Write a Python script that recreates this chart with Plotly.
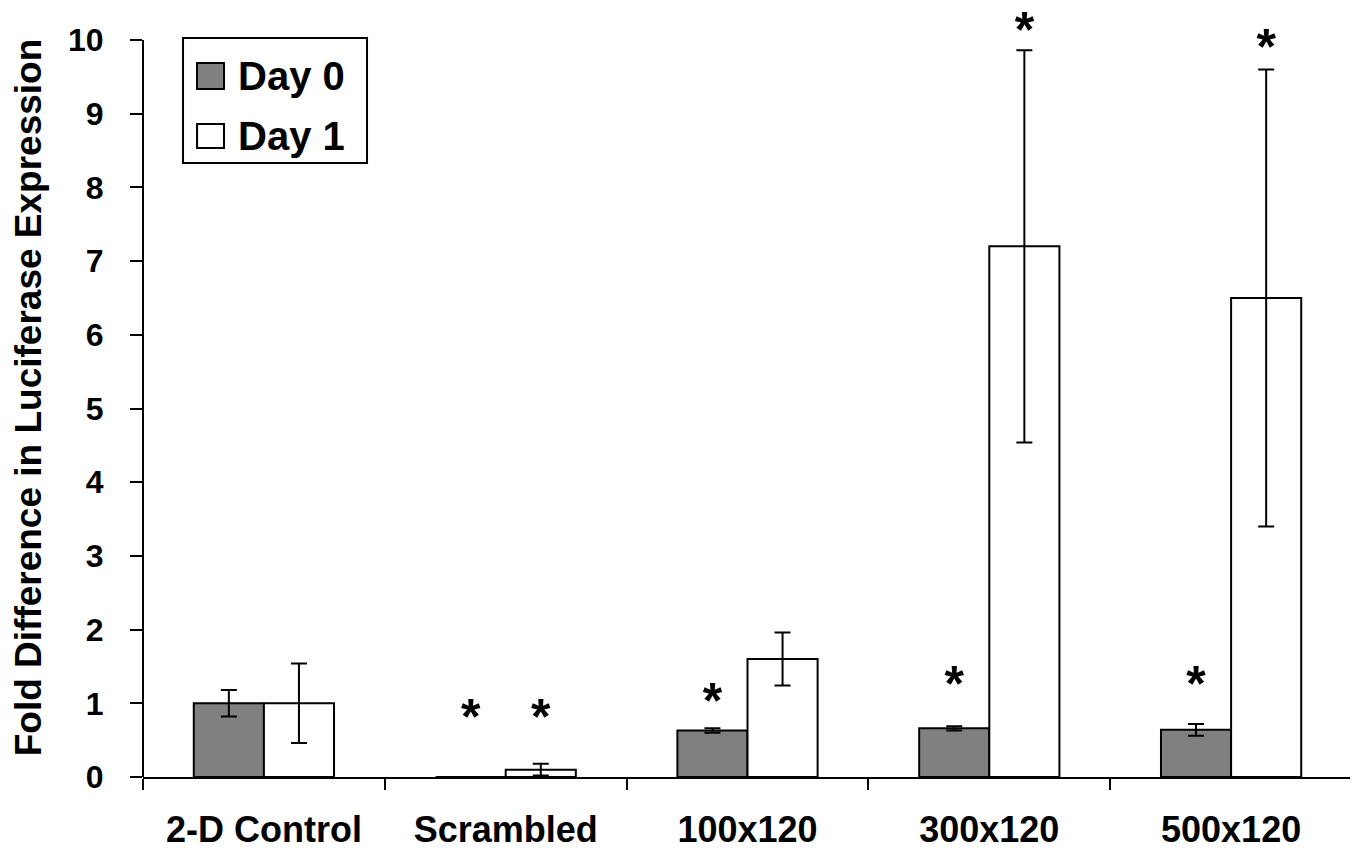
import plotly.graph_objects as go

categories = ["2-D Control", "Scrambled", "100x120", "300x120", "500x120"]
day0 = [1.0, 0.0, 0.63, 0.66, 0.64]
day0_err = [0.18, 0.0, 0.03, 0.03, 0.08]
day1 = [1.0, 0.1, 1.6, 7.2, 6.5]
day1_err = [0.54, 0.08, 0.36, 2.66, 3.1]
# significance markers (y position of asterisk, None = no marker)
star_day0 = [None, 0.75, 0.97, 1.2, 1.2]
star_day1 = [None, 0.75, None, 10.07, 9.84]
y_ticks = list(range(0, 11))
y_max = 10

FONT = "Liberation Sans, Arial, sans-serif"

# layout geometry (figure pixels)
FIG_W, FIG_H = 1350, 842
M_L, M_R, M_B = 135, 6, 73
TOP_OF_AXIS = 32      # where y = y_max sits
M_T = 10              # extra head-room above the axis for the asterisks
axis_px = FIG_H - M_B - TOP_OF_AXIS
y_top = y_max * (1 + (TOP_OF_AXIS - M_T) / axis_px)

fig = go.Figure()
fig.add_trace(go.Bar(
    x=categories, y=day0, name="Day 0",
    marker=dict(color="#808080", line=dict(color="black", width=2)),
    error_y=dict(type="data", array=day0_err, color="black", thickness=2, width=8),
    offsetgroup="d0",
))
fig.add_trace(go.Bar(
    x=categories, y=day1, name="Day 1",
    marker=dict(color="white", line=dict(color="black", width=2)),
    error_y=dict(type="data", array=day1_err, color="black", thickness=2, width=8),
    offsetgroup="d1",
))
for stars, grp in ((star_day0, "d0"), (star_day1, "d1")):
    fig.add_trace(go.Scatter(
        x=categories, y=stars, mode="text", text=["*" if s is not None else "" for s in stars],
        textposition="middle center", offsetgroup=grp, cliponaxis=False,
        textfont=dict(family=FONT, size=50, color="black", weight="bold"),
        showlegend=False, hoverinfo="skip",
    ))

# y axis line from 0 to y_max only
fig.add_shape(type="line", xref="paper", yref="y", x0=0, x1=0, y0=0, y1=y_max,
              line=dict(color="black", width=2), layer="above")

# custom legend (box, swatches, labels) in paper coordinates
def py(v):  # convert fraction of the 0..y_max axis into paper fraction
    return v * y_max / y_top

fig.add_shape(type="rect", xref="paper", yref="paper", x0=0.0331, x1=0.1853, y0=py(0.833), y1=py(1.0027),
              line=dict(color="black", width=2), fillcolor="white", layer="above")
fig.add_shape(type="rect", xref="paper", yref="paper", x0=0.0447, x1=0.0670, y0=py(0.9335), y1=py(0.9688),
              line=dict(color="black", width=2), fillcolor="#808080", layer="above")
fig.add_shape(type="rect", xref="paper", yref="paper", x0=0.0447, x1=0.0670, y0=py(0.8535), y1=py(0.886),
              line=dict(color="black", width=2), fillcolor="white", layer="above")
fig.add_annotation(xref="paper", yref="paper", x=0.0770, y=py(0.951), text="Day 0", showarrow=False,
                   xanchor="left", yanchor="middle",
                   font=dict(family=FONT, size=40, color="black", weight="bold"))
fig.add_annotation(xref="paper", yref="paper", x=0.0770, y=py(0.8697), text="Day 1", showarrow=False,
                   xanchor="left", yanchor="middle",
                   font=dict(family=FONT, size=40, color="black", weight="bold"))

fig.update_layout(
    width=FIG_W, height=FIG_H,
    margin=dict(l=M_L, r=M_R, t=M_T, b=M_B),
    paper_bgcolor="white", plot_bgcolor="white",
    barmode="group", bargap=0.42, bargroupgap=0,
    scattermode="group",
    showlegend=False,
    font=dict(family=FONT, color="black", weight="bold"),
)
fig.update_xaxes(
    showline=True, linecolor="black", linewidth=2, automargin=False,
    ticks="outside", tickson="boundaries", ticklen=11, tickwidth=2, tickcolor="black",
    tickfont=dict(family=FONT, size=36, color="black", weight="bold"),
    showgrid=False, zeroline=False, ticklabelstandoff=20,
)
fig.update_yaxes(
    range=[0, y_top], tickvals=y_ticks, ticktext=[str(v) for v in y_ticks],
    showline=False, automargin=False,
    ticks="outside", ticklen=12, tickwidth=2, tickcolor="black",
    tickfont=dict(family=FONT, size=32, color="black", weight="bold"),
    showgrid=False, zeroline=False, ticklabelstandoff=20,
    title=dict(text="Fold Difference in Luciferase Expression", standoff=20,
               font=dict(family=FONT, size=37, color="black", weight="bold")),
)

fig.write_html("out.html")
